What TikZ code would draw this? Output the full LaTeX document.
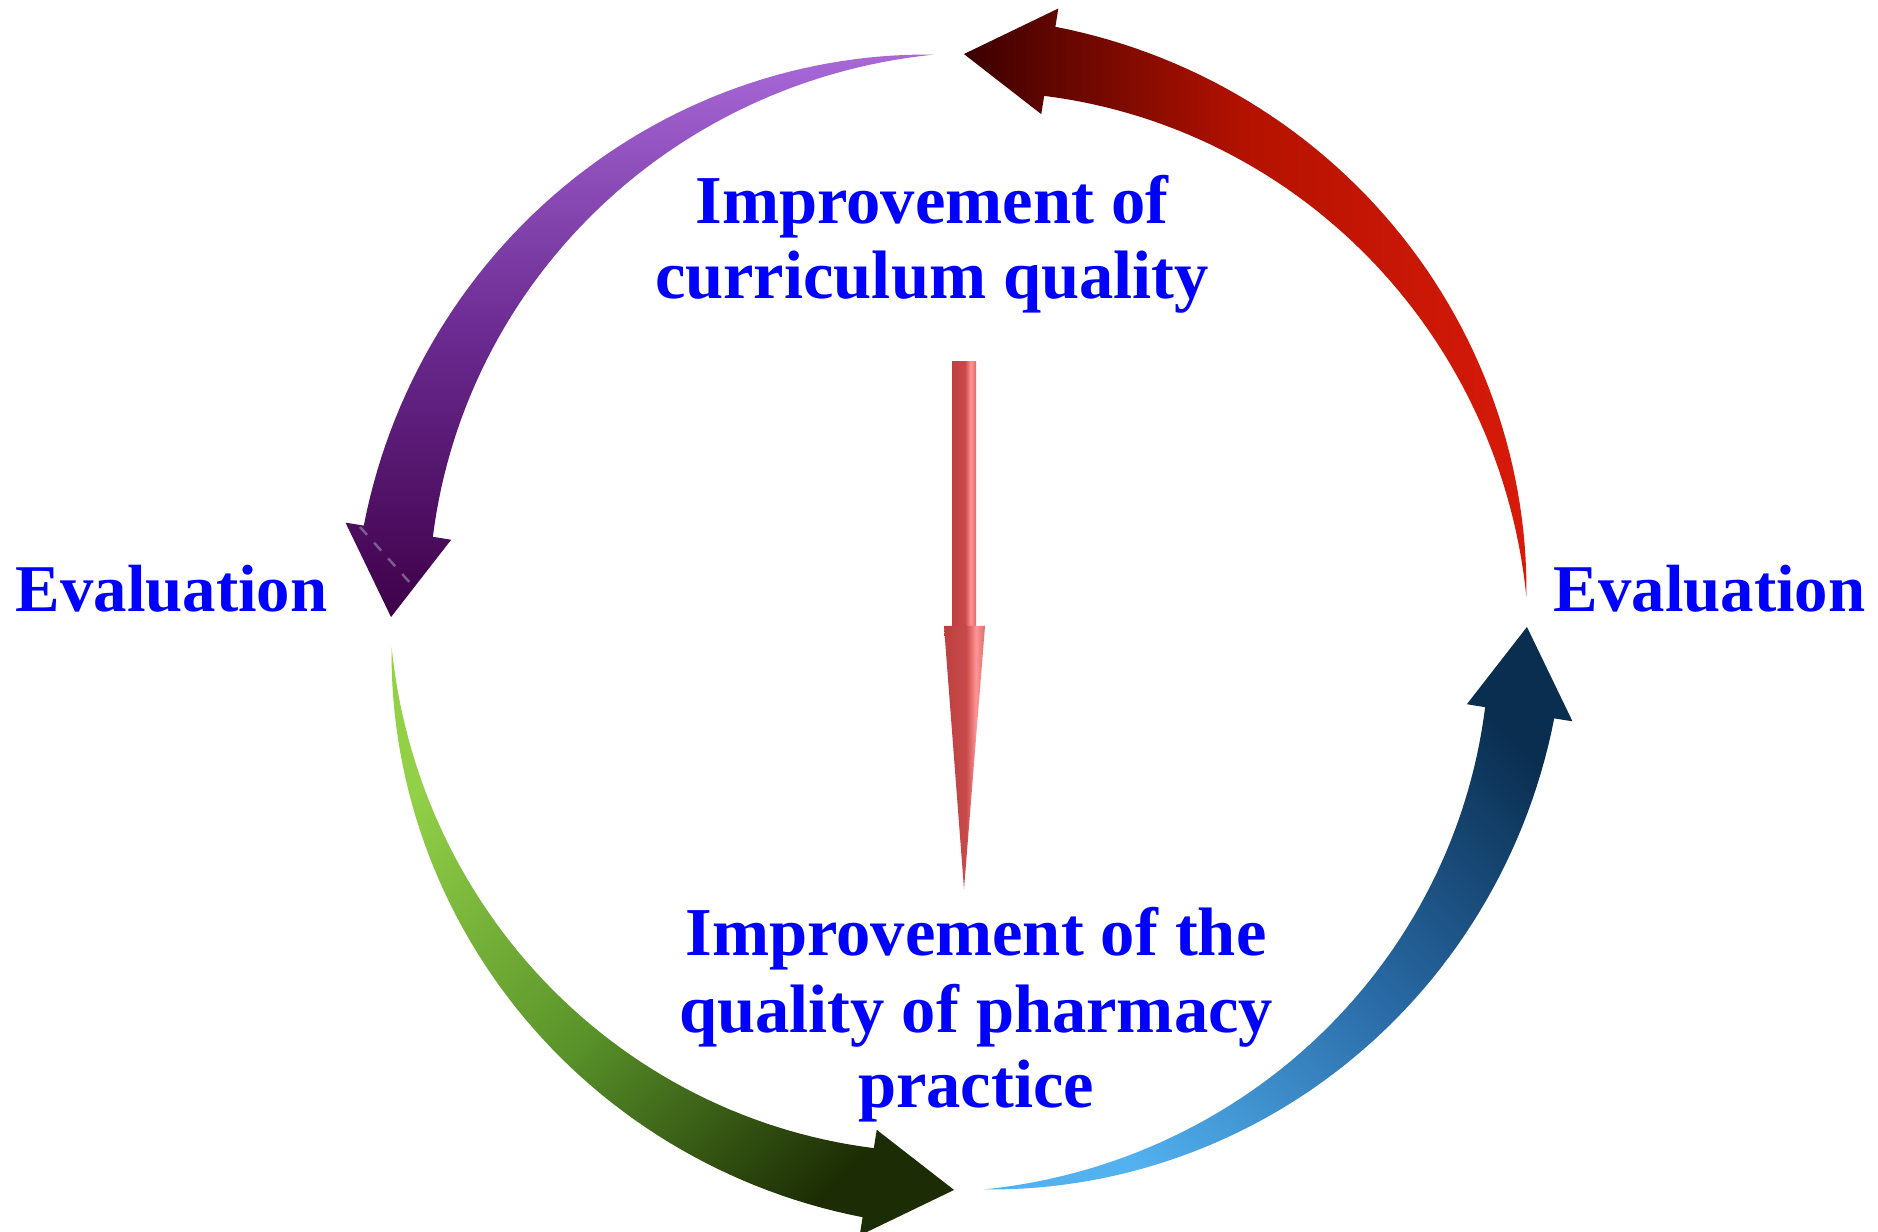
\documentclass[tikz,border=0pt]{standalone}
\usepackage{fontspec}
\setmainfont{Liberation Serif}
\usetikzlibrary{calc}
\definecolor{txtblue}{RGB}{0,0,255}
\definecolor{redD}{HTML}{3A0000}
\definecolor{redM}{HTML}{B41200}
\definecolor{redL}{HTML}{D81A0A}
\definecolor{purL}{HTML}{A868D8}
\definecolor{purM}{HTML}{6A2A90}
\definecolor{purD}{HTML}{3E0048}
\definecolor{grnL}{HTML}{92D048}
\definecolor{grnM}{HTML}{5A942A}
\definecolor{grnD}{HTML}{1C2C04}
\definecolor{bluL}{HTML}{52B2F0}
\definecolor{bluM}{HTML}{2A6CA8}
\definecolor{bluD}{HTML}{0A2E50}
\definecolor{rbA}{HTML}{BF3F3F}
\definecolor{rbB}{HTML}{C84A4A}
\definecolor{rbC}{HTML}{FF9494}
\definecolor{rbD}{HTML}{E26A6A}
\definecolor{dashcol}{RGB}{125,92,145}
\pgfdeclarehorizontalshading{redbar}{100bp}{color(0bp)=(rbA); color(25bp)=(rbA); color(52bp)=(rbB); color(64bp)=(rbC); color(75bp)=(rbD); color(100bp)=(rbD)}
\def\arR{5.68}
\def\arW{0.70}
\def\arH{1.07}
\newcommand{\cyclearrow}[2]{%
  \pgfmathsetmacro{\arTail}{#1+2.5}%
  \pgfmathsetmacro{\arBase}{#1+80.8}%
  \pgfmathsetmacro{\arTip}{#1+89.5}%
  \shade[#2] plot[domain=\arTail:\arBase, samples=60] (\x:{\arR+0.5*\arW*((\x-\arTail)/(\arBase-\arTail))*(1.25-0.25*(\x-\arTail)/(\arBase-\arTail))})
    -- (\arBase:{\arR+0.5*\arH}) -- (\arTip:\arR) -- (\arBase:{\arR-0.5*\arH})
    -- plot[domain=\arBase:\arTail, samples=60] (\x:{\arR-0.5*\arW*((\x-\arTail)/(\arBase-\arTail))*(1.25-0.25*(\x-\arTail)/(\arBase-\arTail))})
    -- cycle;
}
\tikzset{
  bigtext/.style={text=txtblue, inner sep=0pt, anchor=base, font=\fontsize{19.5}{22}\selectfont\bfseries},
  evaltext/.style={text=txtblue, inner sep=0pt, anchor=base west, font=\fontsize{19}{22}\selectfont\bfseries},
}
\begin{document}
\begin{tikzpicture}
\useasboundingbox (0,0) rectangle (18.78,12.32);
\fill[white] (0,0) rectangle (18.78,12.32);
\coordinate (C) at (9.59,6.10);
\begin{scope}[shift={(C)}]
  \cyclearrow{0}{left color=redD, right color=redL, middle color=redM}
  \cyclearrow{90}{top color=purL, bottom color=purD, middle color=purM}
  \cyclearrow{180}{top color=grnL, bottom color=grnD, middle color=grnM, shading angle=45}
  \cyclearrow{270}{top color=bluL, bottom color=bluD, middle color=bluM, shading angle=135}
\end{scope}
% faint dashed artifact in purple head
\coordinate (da) at (3.60,7.05);
\coordinate (db) at (4.12,6.47);
\draw[dashcol, line width=0.7pt, dash pattern=on 3pt off 3pt] (da) -- (db);
% central arrow
\shade[shading=redbar] (9.52,8.70) rectangle (9.76,6.06);
\shade[shading=redbar] (9.44,6.06) -- (9.85,6.06) -- (9.64,3.43) -- cycle;
% texts
\node[bigtext] (top1) at (9.32,10.08) {Improvement of};
\node[bigtext] (top2) at (9.32,9.33) {curriculum quality};
\node[bigtext] (bot1) at (9.76,2.76) {Improvement of the};
\node[bigtext] (bot2) at (9.76,1.99) {quality of pharmacy};
\node[bigtext] (bot3) at (9.76,1.24) {practice};
\node[evaltext] (evalL) at (0.15,6.20) {Evaluation};
\node[evaltext] (evalR) at (15.53,6.20) {Evaluation};
\end{tikzpicture}
\end{document}
